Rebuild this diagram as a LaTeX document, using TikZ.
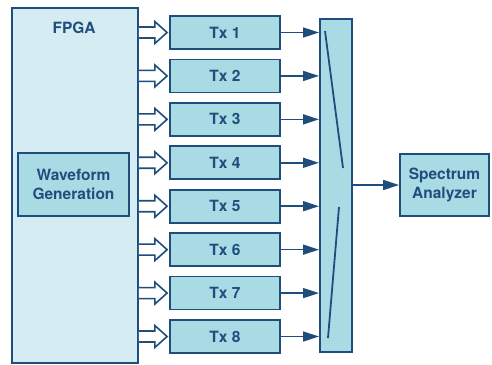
\documentclass[tikz,border=0pt]{standalone}
\usepackage{fontspec}
\setmainfont{TeX Gyre Heros}
\usetikzlibrary{arrows.meta,calc}
\definecolor{edge}{HTML}{1F4E7C}
\definecolor{pale}{HTML}{D5ECF2}
\definecolor{mid}{HTML}{A9DBE5}
\tikzset{
  lbl/.style={text=edge, font=\fontsize{15.5}{18.5}\selectfont\bfseries, align=center},
  blk/.style={draw=edge, line width=1.8pt, fill=mid, inner sep=0pt, lbl},
  hollow/.style={draw=edge, line width=1.6pt, fill=white, line join=miter},
  feed/.style={draw=edge, line width=1.6pt, -{Triangle[length=16pt,width=10pt]}},
  blade/.style={draw=edge, line width=1.8pt}
}
\begin{document}
\begin{tikzpicture}[x=1pt,y=-1pt]
\useasboundingbox (0,0) rectangle (492,364);
% FPGA container
\node[blk, fill=pale, minimum width=126pt, minimum height=355pt, anchor=north west] (fpga) at (11,7) {};
\node[lbl] (fpgalbl) at (74,28) {FPGA};
\node[blk, minimum width=111pt, minimum height=63pt] (wave) at (73.5,184.5) {Waveform\\Generation};
% transmitters
\foreach \i in {1,...,8}{
  \node[blk, minimum width=110pt, minimum height=33pt] (tx\i) at (225,{32.5+43.43*(\i-1)}) {Tx \i};
}
% combiner with switch blades
\node[blk, minimum width=32pt, minimum height=333pt, anchor=north west] (comb) at (319,18) {};
\coordinate (b1s) at (325,31);
\coordinate (b1e) at (343,168);
\coordinate (b2s) at (339,207);
\coordinate (b2e) at (328,338);
\draw[blade] (b1s) -- (b1e);
\draw[blade] (b2s) -- (b2e);
% spectrum analyzer
\node[blk, minimum width=89pt, minimum height=62pt] (sa) at (444.5,185) {Spectrum\\Analyzer};
% bus arrows and feeds
\foreach \i in {1,...,8}{
  \coordinate (s\i) at (fpga.east |- tx\i.west);
  \draw[hollow] ($(s\i)+(0,-5.5)$) -- ($(s\i)+(16,-5.5)$) -- ($(s\i)+(16,-11)$)
     -- ($(tx\i.west)+(-2,0)$) -- ($(s\i)+(16,11)$) -- ($(s\i)+(16,5.5)$) -- ($(s\i)+(0,5.5)$);
  \draw[feed] (tx\i.east) -- (comb.west |- tx\i.east);
}
\draw[feed] (comb.east |- sa.west) -- (sa.west);
\end{tikzpicture}
\end{document}
